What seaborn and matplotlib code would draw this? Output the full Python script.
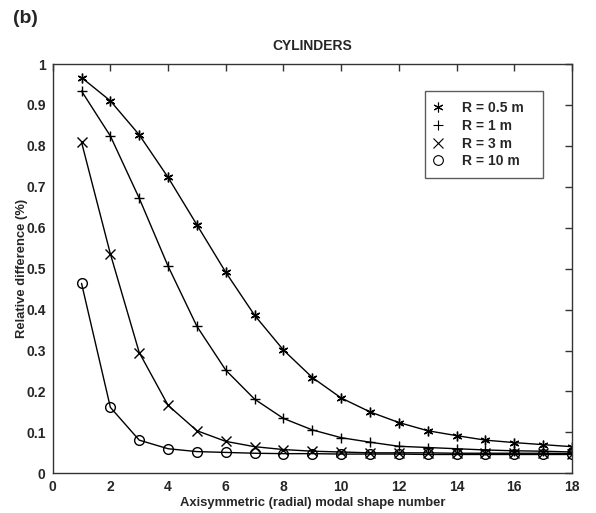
import matplotlib
matplotlib.use("Agg")
import matplotlib.pyplot as plt
from matplotlib.lines import Line2D
import numpy as np
import pandas as pd
import seaborn as sns

# Modal shape numbers and relative differences for each cylinder radius
modes = list(range(1, 19))
r_05 = [0.967, 0.910, 0.827, 0.723, 0.607, 0.491, 0.386, 0.301, 0.234, 0.184,
        0.150, 0.124, 0.104, 0.092, 0.081, 0.075, 0.070, 0.065]
r_1 = [0.934, 0.824, 0.672, 0.506, 0.359, 0.252, 0.181, 0.134, 0.106, 0.087,
       0.076, 0.066, 0.063, 0.060, 0.057, 0.055, 0.054, 0.052]
r_3 = [0.809, 0.536, 0.295, 0.166, 0.104, 0.078, 0.065, 0.058, 0.054, 0.052,
       0.050, 0.050, 0.050, 0.049, 0.049, 0.049, 0.049, 0.048]
r_10 = [0.464, 0.161, 0.081, 0.060, 0.053, 0.051, 0.049, 0.048, 0.048, 0.047,
        0.047, 0.047, 0.046, 0.046, 0.046, 0.046, 0.046, 0.046]
labels = ["R = 0.5 m", "R = 1 m", "R = 3 m", "R = 10 m"]
x_ticks = list(range(0, 19, 2))
y_ticks = [0, 0.1, 0.2, 0.3, 0.4, 0.5, 0.6, 0.7, 0.8, 0.9, 1]
y_ticklabels = ["0", "0.1", "0.2", "0.3", "0.4", "0.5", "0.6", "0.7", "0.8", "0.9", "1"]

series = [r_05, r_1, r_3, r_10]
marker_list = [(6, 2, 0), "+", "x", "o"]

sns.set_style("white")
plt.rcParams["font.family"] = ["Liberation Sans", "DejaVu Sans"]
plt.rcParams["font.weight"] = "bold"

fig = plt.figure(figsize=(5.96, 5.13), dpi=100)
ax = fig.add_axes([0.0884, 0.0774, 0.8713, 0.7978])

for vals, lab, mk in zip(series, labels, marker_list):
    d = pd.DataFrame({"mode": modes, "diff": vals})
    sns.lineplot(data=d, x="mode", y="diff", ax=ax, color="black",
                 linewidth=1.0, marker=mk, markersize=7, markeredgewidth=1.0,
                 markerfacecolor="none", markeredgecolor="black", legend=False)

ax.set_xlim(0, 18)
ax.set_ylim(0, 1)
ax.set_xticks(x_ticks)
ax.set_xticklabels([str(t) for t in x_ticks])
ax.set_yticks(y_ticks)
ax.set_yticklabels(y_ticklabels)
ax.tick_params(direction="in", length=5, width=1, top=True, right=True,
               labelsize=10, pad=5, color="#333333")
for sp in ax.spines.values():
    sp.set_visible(True)
    sp.set_color("#333333")
    sp.set_linewidth(1.0)

ax.set_xlabel("Axisymmetric (radial) modal shape number", fontsize=9.4,
              fontweight="bold", labelpad=2)
ax.set_ylabel("Relative difference (%)", fontsize=9.4, fontweight="bold",
              labelpad=-1)
ax.set_title("CYLINDERS", fontsize=10, fontweight="bold", pad=10)
fig.text(0.022, 0.964, "(b)", fontsize=14, fontweight="bold", va="center")

handles = [Line2D([], [], color="black", linestyle="none", marker=mk,
                  markersize=7, markeredgewidth=0.8, markerfacecolor="none")
           for mk in marker_list]
leg = ax.legend(handles, labels, loc="upper left",
                bbox_to_anchor=(0.717, 0.5, 0.227, 0.434), mode="expand",
                frameon=True, fancybox=False, edgecolor="#333333",
                fontsize=10, handlelength=0.45, handletextpad=1.5,
                borderpad=0.72, labelspacing=0.27, borderaxespad=0)
leg.get_frame().set_linewidth(1.0)
for t in leg.get_texts():
    t.set_fontweight("bold")

fig.savefig("out.png", dpi=100)
